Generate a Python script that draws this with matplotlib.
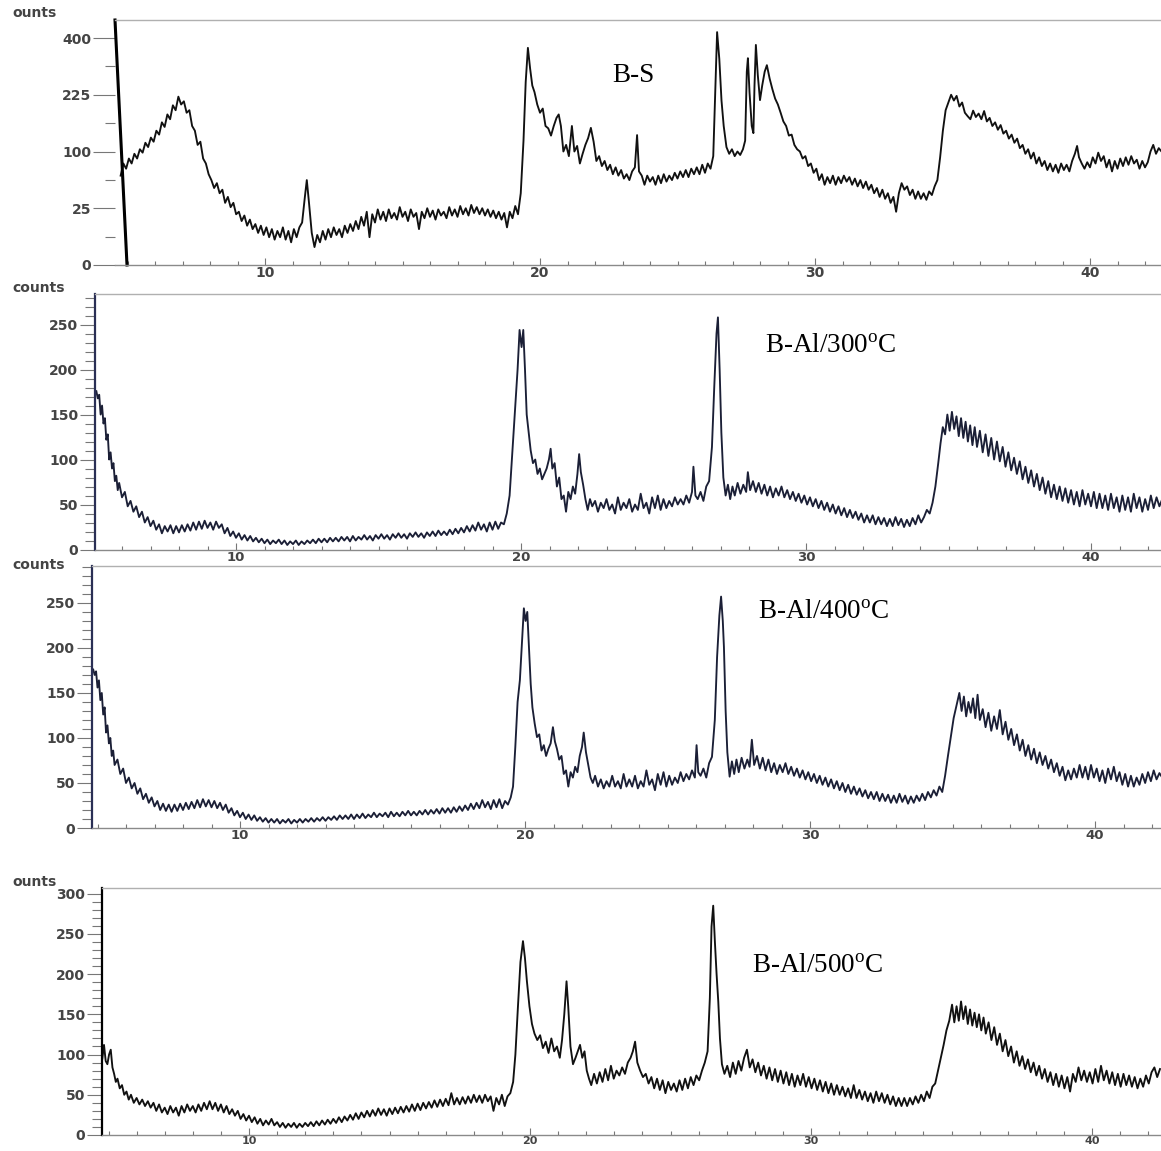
import matplotlib.pyplot as plt
import numpy as np
from matplotlib.ticker import FixedLocator, MultipleLocator

plt.rcParams['mathtext.fontset'] = 'custom'
plt.rcParams['mathtext.rm'] = 'Liberation Serif'
plt.rcParams['mathtext.it'] = 'Liberation Serif:italic'
plt.rcParams['mathtext.bf'] = 'Liberation Serif:bold'

# XRD traces, (2theta, counts)
BS_PTS = [
    (4.75, 62), (4.85, 80), (4.95, 72), (5.05, 88), (5.15, 80), (5.25, 96), (5.35, 88), (5.45, 104),
    (5.55, 98), (5.65, 116), (5.75, 108), (5.85, 126), (5.95, 118), (6.05, 140), (6.15, 132), (6.25, 158),
    (6.35, 148), (6.45, 176), (6.55, 165), (6.65, 198), (6.75, 186), (6.85, 220), (6.95, 200), (7.05, 208),
    (7.15, 180), (7.25, 186), (7.35, 150), (7.45, 140), (7.55, 112), (7.65, 118), (7.75, 88), (7.85, 80),
    (7.95, 64), (8.05, 56), (8.15, 46), (8.25, 52), (8.35, 40), (8.45, 44), (8.55, 30), (8.65, 36),
    (8.75, 26), (8.85, 30), (8.95, 20), (9.05, 22), (9.15, 15), (9.25, 19), (9.35, 12), (9.45, 16),
    (9.55, 10), (9.65, 13), (9.75, 8), (9.85, 12), (9.95, 7), (10.05, 11), (10.15, 6), (10.25, 10),
    (10.35, 5), (10.45, 9), (10.55, 6), (10.65, 11), (10.75, 5), (10.85, 9), (10.95, 4), (11.05, 10),
    (11.15, 6), (11.25, 11), (11.35, 14), (11.45, 36), (11.52, 56), (11.6, 30), (11.7, 8), (11.8, 2.5),
    (11.9, 7), (12.0, 4), (12.1, 9), (12.2, 5), (12.3, 10), (12.4, 6), (12.5, 11), (12.6, 7),
    (12.7, 10), (12.8, 6), (12.9, 12), (13.0, 8), (13.1, 13), (13.2, 9), (13.3, 15), (13.4, 10),
    (13.5, 18), (13.6, 12), (13.7, 22), (13.8, 6), (13.9, 20), (14.0, 14), (14.1, 24), (14.2, 16),
    (14.3, 22), (14.4, 15), (14.5, 24), (14.6, 17), (14.7, 21), (14.8, 16), (14.9, 26), (15.0, 18),
    (15.1, 22), (15.2, 15), (15.3, 24), (15.4, 18), (15.5, 21), (15.6, 10), (15.7, 22), (15.8, 17),
    (15.9, 25), (16.0, 18), (16.1, 23), (16.2, 16), (16.3, 24), (16.4, 19), (16.5, 22), (16.6, 17),
    (16.7, 26), (16.8, 19), (16.9, 24), (17.0, 18), (17.1, 27), (17.2, 20), (17.3, 25), (17.4, 19),
    (17.5, 28), (17.6, 21), (17.7, 26), (17.8, 20), (17.9, 25), (18.0, 19), (18.1, 24), (18.2, 18),
    (18.3, 23), (18.4, 17), (18.5, 22), (18.6, 16), (18.7, 21), (18.8, 11), (18.9, 22), (19.0, 17),
    (19.1, 27), (19.2, 20), (19.3, 40), (19.4, 120), (19.48, 260), (19.56, 366), (19.64, 300), (19.72, 250),
    (19.8, 232), (19.9, 200), (20.0, 180), (20.1, 190), (20.2, 150), (20.3, 145), (20.4, 130), (20.5, 150),
    (20.6, 168), (20.68, 176), (20.76, 150), (20.85, 100), (20.95, 112), (21.05, 92), (21.16, 150), (21.25, 100),
    (21.35, 110), (21.45, 80), (21.55, 96), (21.65, 112), (21.75, 125), (21.85, 146), (21.95, 118), (22.05, 84),
    (22.15, 92), (22.25, 76), (22.35, 84), (22.45, 70), (22.55, 78), (22.65, 64), (22.75, 74), (22.85, 62),
    (22.95, 70), (23.05, 58), (23.15, 64), (23.25, 56), (23.35, 68), (23.45, 74), (23.53, 131), (23.6, 68),
    (23.7, 62), (23.8, 50), (23.9, 62), (24.0, 54), (24.1, 60), (24.2, 50), (24.3, 62), (24.4, 52),
    (24.5, 64), (24.6, 54), (24.7, 62), (24.8, 56), (24.9, 66), (25.0, 58), (25.1, 68), (25.2, 60),
    (25.3, 70), (25.4, 60), (25.5, 72), (25.6, 64), (25.7, 74), (25.8, 64), (25.9, 78), (26.0, 66),
    (26.1, 80), (26.2, 72), (26.3, 92), (26.38, 250), (26.44, 421), (26.52, 330), (26.6, 210), (26.68, 150),
    (26.78, 108), (26.88, 96), (26.98, 104), (27.08, 92), (27.18, 100), (27.28, 94), (27.38, 104), (27.46, 120),
    (27.52, 290), (27.56, 332), (27.62, 230), (27.7, 150), (27.76, 135), (27.8, 250), (27.85, 376), (27.92, 280),
    (28.0, 211), (28.08, 250), (28.17, 290), (28.25, 310), (28.35, 270), (28.45, 240), (28.55, 215), (28.65, 200),
    (28.75, 180), (28.85, 160), (28.95, 150), (29.05, 130), (29.15, 132), (29.25, 112), (29.35, 104), (29.45, 100),
    (29.55, 88), (29.65, 92), (29.75, 76), (29.85, 80), (29.95, 66), (30.05, 72), (30.15, 56), (30.25, 64),
    (30.35, 50), (30.45, 60), (30.55, 52), (30.65, 62), (30.75, 50), (30.85, 60), (30.95, 52), (31.05, 62),
    (31.15, 54), (31.25, 60), (31.35, 50), (31.45, 58), (31.55, 48), (31.65, 56), (31.75, 46), (31.85, 54),
    (31.95, 44), (32.05, 50), (32.15, 40), (32.25, 46), (32.35, 36), (32.45, 44), (32.55, 34), (32.65, 40),
    (32.75, 30), (32.85, 36), (32.95, 22), (33.05, 40), (33.15, 52), (33.25, 44), (33.35, 48), (33.45, 38),
    (33.55, 44), (33.65, 34), (33.75, 42), (33.85, 34), (33.95, 40), (34.05, 33), (34.15, 42), (34.25, 38),
    (34.35, 48), (34.45, 56), (34.55, 90), (34.65, 140), (34.75, 186), (34.85, 205), (34.95, 225), (35.05, 210),
    (35.15, 222), (35.25, 195), (35.35, 205), (35.45, 180), (35.55, 172), (35.65, 165), (35.75, 185), (35.85, 170),
    (35.95, 178), (36.05, 165), (36.15, 184), (36.25, 160), (36.35, 168), (36.45, 150), (36.55, 158), (36.65, 142),
    (36.75, 152), (36.85, 134), (36.95, 140), (37.05, 124), (37.15, 132), (37.25, 116), (37.35, 124), (37.45, 106),
    (37.55, 112), (37.65, 96), (37.75, 104), (37.85, 88), (37.95, 98), (38.05, 80), (38.15, 90), (38.25, 76),
    (38.35, 84), (38.45, 70), (38.55, 80), (38.65, 68), (38.75, 78), (38.85, 66), (38.95, 80), (39.05, 70),
    (39.15, 78), (39.25, 68), (39.35, 84), (39.45, 96), (39.53, 110), (39.6, 90), (39.7, 80), (39.8, 72),
    (39.9, 82), (40.0, 74), (40.1, 90), (40.2, 80), (40.3, 98), (40.4, 84), (40.5, 92), (40.6, 74),
    (40.7, 86), (40.8, 68), (40.9, 84), (41.0, 72), (41.1, 88), (41.2, 76), (41.3, 90), (41.4, 78),
    (41.5, 92), (41.6, 80), (41.7, 86), (41.8, 72), (41.9, 84), (42.0, 74), (42.1, 82), (42.2, 100),
    (42.3, 112), (42.4, 96), (42.5, 106), (42.6, 100),
]

AL300_PTS = [
    (5.1, 176), (5.15, 168), (5.2, 172), (5.25, 150), (5.3, 160), (5.35, 140), (5.4, 146), (5.45, 122),
    (5.5, 128), (5.55, 100), (5.6, 108), (5.65, 90), (5.7, 96), (5.75, 76), (5.8, 82), (5.85, 66),
    (5.9, 74), (6.0, 58), (6.1, 64), (6.2, 48), (6.3, 54), (6.4, 42), (6.5, 48), (6.6, 36),
    (6.7, 42), (6.8, 30), (6.9, 36), (7.0, 26), (7.1, 32), (7.2, 22), (7.3, 28), (7.4, 18),
    (7.5, 26), (7.6, 20), (7.7, 27), (7.8, 18), (7.9, 26), (8.0, 19), (8.1, 27), (8.2, 20),
    (8.3, 28), (8.4, 21), (8.5, 30), (8.6, 22), (8.7, 31), (8.8, 23), (8.9, 32), (9.0, 24),
    (9.1, 30), (9.2, 22), (9.3, 31), (9.4, 24), (9.5, 28), (9.6, 18), (9.7, 24), (9.8, 15),
    (9.9, 20), (10.0, 13), (10.1, 18), (10.2, 11), (10.3, 16), (10.4, 10), (10.5, 15), (10.6, 9),
    (10.7, 13), (10.8, 8), (10.9, 12), (11.0, 7), (11.1, 11), (11.2, 6), (11.3, 10), (11.4, 7),
    (11.5, 11), (11.6, 6), (11.7, 10), (11.8, 5), (11.9, 9), (12.0, 6), (12.1, 10), (12.2, 5),
    (12.3, 9), (12.4, 6), (12.5, 10), (12.6, 7), (12.7, 11), (12.8, 7), (12.9, 12), (13.0, 8),
    (13.1, 12), (13.2, 8), (13.3, 13), (13.4, 9), (13.5, 13), (13.6, 9), (13.7, 14), (13.8, 10),
    (13.9, 14), (14.0, 9), (14.1, 15), (14.2, 10), (14.3, 14), (14.4, 11), (14.5, 16), (14.6, 11),
    (14.7, 15), (14.8, 10), (14.9, 16), (15.0, 12), (15.1, 17), (15.2, 12), (15.3, 16), (15.4, 11),
    (15.5, 17), (15.6, 13), (15.7, 18), (15.8, 13), (15.9, 17), (16.0, 12), (16.1, 18), (16.2, 14),
    (16.3, 19), (16.4, 14), (16.5, 18), (16.6, 13), (16.7, 19), (16.8, 15), (16.9, 20), (17.0, 15),
    (17.1, 21), (17.2, 16), (17.3, 20), (17.4, 16), (17.5, 22), (17.6, 17), (17.7, 23), (17.8, 18),
    (17.9, 24), (18.0, 19), (18.1, 26), (18.2, 20), (18.3, 27), (18.4, 21), (18.5, 30), (18.6, 22),
    (18.7, 28), (18.8, 20), (18.9, 30), (19.0, 22), (19.1, 31), (19.2, 23), (19.3, 30), (19.4, 28),
    (19.5, 40), (19.6, 60), (19.7, 110), (19.8, 160), (19.88, 200), (19.95, 244), (20.02, 225), (20.08, 244),
    (20.14, 200), (20.2, 150), (20.27, 130), (20.34, 110), (20.42, 96), (20.5, 100), (20.58, 84), (20.66, 90),
    (20.74, 78), (20.82, 84), (20.9, 90), (20.98, 100), (21.04, 112), (21.1, 90), (21.18, 96), (21.26, 70),
    (21.34, 80), (21.42, 56), (21.5, 60), (21.58, 42), (21.66, 64), (21.74, 56), (21.82, 70), (21.9, 62),
    (21.98, 84), (22.04, 106), (22.1, 86), (22.18, 72), (22.26, 56), (22.34, 44), (22.42, 56), (22.5, 48),
    (22.6, 54), (22.7, 42), (22.8, 52), (22.9, 46), (23.0, 56), (23.1, 44), (23.2, 50), (23.3, 40),
    (23.4, 58), (23.5, 44), (23.6, 52), (23.7, 46), (23.8, 56), (23.9, 42), (24.0, 50), (24.1, 44),
    (24.2, 62), (24.3, 46), (24.4, 52), (24.5, 40), (24.6, 58), (24.7, 46), (24.8, 60), (24.9, 44),
    (25.0, 56), (25.1, 46), (25.2, 54), (25.3, 48), (25.4, 58), (25.5, 50), (25.6, 56), (25.7, 50),
    (25.8, 60), (25.9, 52), (26.0, 64), (26.05, 92), (26.12, 60), (26.2, 56), (26.3, 64), (26.4, 54),
    (26.5, 70), (26.6, 76), (26.7, 114), (26.78, 180), (26.86, 240), (26.91, 258), (26.97, 200), (27.03, 130),
    (27.1, 80), (27.18, 60), (27.26, 72), (27.34, 56), (27.42, 70), (27.5, 60), (27.6, 74), (27.7, 62),
    (27.8, 72), (27.9, 64), (27.96, 86), (28.04, 66), (28.14, 76), (28.24, 64), (28.34, 74), (28.44, 62),
    (28.54, 72), (28.64, 60), (28.74, 70), (28.84, 58), (28.94, 68), (29.04, 60), (29.14, 70), (29.24, 58),
    (29.34, 66), (29.44, 56), (29.54, 64), (29.64, 54), (29.74, 62), (29.84, 52), (29.94, 60), (30.04, 50),
    (30.14, 58), (30.24, 48), (30.34, 56), (30.44, 46), (30.54, 54), (30.64, 44), (30.74, 52), (30.84, 42),
    (30.94, 50), (31.04, 40), (31.14, 48), (31.24, 38), (31.34, 46), (31.44, 36), (31.54, 44), (31.64, 35),
    (31.74, 42), (31.84, 33), (31.94, 40), (32.04, 30), (32.14, 38), (32.24, 30), (32.34, 38), (32.44, 28),
    (32.54, 36), (32.64, 28), (32.74, 35), (32.84, 26), (32.94, 34), (33.04, 26), (33.14, 36), (33.24, 27),
    (33.34, 34), (33.44, 25), (33.54, 33), (33.64, 26), (33.74, 35), (33.84, 28), (33.94, 38), (34.04, 30),
    (34.14, 36), (34.24, 44), (34.34, 40), (34.44, 52), (34.54, 70), (34.64, 96), (34.72, 118), (34.8, 136),
    (34.88, 128), (34.96, 150), (35.04, 132), (35.12, 153), (35.2, 134), (35.28, 148), (35.36, 126), (35.44, 146),
    (35.52, 124), (35.6, 142), (35.68, 120), (35.76, 138), (35.84, 116), (35.92, 136), (36.0, 114), (36.1, 132),
    (36.2, 108), (36.3, 128), (36.4, 104), (36.5, 124), (36.6, 100), (36.7, 120), (36.8, 98), (36.9, 114),
    (37.0, 92), (37.1, 108), (37.2, 88), (37.3, 102), (37.4, 84), (37.5, 98), (37.6, 78), (37.7, 92),
    (37.8, 74), (37.9, 88), (38.0, 70), (38.1, 84), (38.2, 66), (38.3, 80), (38.4, 62), (38.5, 76),
    (38.6, 58), (38.7, 72), (38.8, 56), (38.9, 70), (39.0, 54), (39.1, 68), (39.2, 52), (39.3, 66),
    (39.4, 50), (39.5, 64), (39.6, 48), (39.7, 66), (39.8, 50), (39.9, 62), (40.0, 48), (40.1, 64),
    (40.2, 46), (40.3, 62), (40.4, 46), (40.5, 60), (40.6, 44), (40.7, 62), (40.8, 46), (40.9, 58),
    (41.0, 42), (41.1, 60), (41.2, 44), (41.3, 58), (41.4, 42), (41.5, 62), (41.6, 46), (41.7, 58),
    (41.8, 42), (41.9, 56), (42.0, 44), (42.1, 60), (42.2, 46), (42.3, 58), (42.4, 48), (42.5, 56),
]

AL400_PTS = [
    (4.85, 176), (4.9, 170), (4.95, 174), (5.0, 156), (5.05, 164), (5.1, 142), (5.15, 150), (5.2, 126),
    (5.25, 134), (5.3, 106), (5.35, 114), (5.4, 94), (5.45, 100), (5.5, 80), (5.55, 86), (5.6, 70),
    (5.7, 76), (5.8, 60), (5.9, 66), (6.0, 50), (6.1, 56), (6.2, 44), (6.3, 50), (6.4, 38),
    (6.5, 44), (6.6, 32), (6.7, 38), (6.8, 28), (6.9, 34), (7.0, 24), (7.1, 30), (7.2, 20),
    (7.3, 27), (7.4, 19), (7.5, 26), (7.6, 18), (7.7, 26), (7.8, 19), (7.9, 27), (8.0, 20),
    (8.1, 28), (8.2, 21), (8.3, 29), (8.4, 22), (8.5, 31), (8.6, 23), (8.7, 32), (8.8, 24),
    (8.9, 31), (9.0, 23), (9.1, 30), (9.2, 22), (9.3, 28), (9.4, 20), (9.5, 26), (9.6, 17),
    (9.7, 22), (9.8, 14), (9.9, 19), (10.0, 12), (10.1, 17), (10.2, 10), (10.3, 15), (10.4, 9),
    (10.5, 14), (10.6, 8), (10.7, 12), (10.8, 7), (10.9, 11), (11.0, 6), (11.1, 10), (11.2, 6),
    (11.3, 10), (11.4, 5), (11.5, 9), (11.6, 6), (11.7, 10), (11.8, 5), (11.9, 9), (12.0, 6),
    (12.1, 10), (12.2, 6), (12.3, 10), (12.4, 7), (12.5, 11), (12.6, 7), (12.7, 11), (12.8, 8),
    (12.9, 12), (13.0, 8), (13.1, 12), (13.2, 9), (13.3, 13), (13.4, 9), (13.5, 14), (13.6, 10),
    (13.7, 14), (13.8, 10), (13.9, 15), (14.0, 10), (14.1, 15), (14.2, 11), (14.3, 16), (14.4, 11),
    (14.5, 15), (14.6, 12), (14.7, 17), (14.8, 12), (14.9, 16), (15.0, 13), (15.1, 17), (15.2, 12),
    (15.3, 18), (15.4, 13), (15.5, 17), (15.6, 13), (15.7, 18), (15.8, 14), (15.9, 19), (16.0, 14),
    (16.1, 18), (16.2, 14), (16.3, 19), (16.4, 15), (16.5, 20), (16.6, 15), (16.7, 20), (16.8, 16),
    (16.9, 21), (17.0, 16), (17.1, 22), (17.2, 17), (17.3, 22), (17.4, 17), (17.5, 23), (17.6, 18),
    (17.7, 24), (17.8, 19), (17.9, 25), (18.0, 20), (18.1, 27), (18.2, 21), (18.3, 28), (18.4, 22),
    (18.5, 31), (18.6, 23), (18.7, 29), (18.8, 21), (18.9, 31), (19.0, 23), (19.1, 32), (19.2, 22),
    (19.3, 30), (19.4, 26), (19.5, 34), (19.58, 46), (19.66, 90), (19.74, 140), (19.82, 164), (19.9, 210),
    (19.96, 244), (20.02, 230), (20.08, 240), (20.14, 201), (20.2, 160), (20.26, 134), (20.34, 116), (20.42, 101),
    (20.5, 104), (20.58, 86), (20.66, 92), (20.74, 80), (20.82, 88), (20.9, 94), (20.98, 112), (21.05, 96),
    (21.12, 88), (21.2, 76), (21.28, 80), (21.36, 60), (21.44, 64), (21.52, 46), (21.6, 62), (21.68, 56),
    (21.76, 68), (21.84, 62), (21.92, 80), (22.0, 90), (22.06, 106), (22.14, 84), (22.22, 70), (22.3, 56),
    (22.38, 50), (22.46, 58), (22.56, 46), (22.66, 54), (22.76, 44), (22.86, 52), (22.96, 46), (23.06, 58),
    (23.16, 46), (23.26, 52), (23.36, 44), (23.46, 60), (23.56, 46), (23.66, 54), (23.76, 46), (23.86, 58),
    (23.96, 44), (24.06, 52), (24.16, 46), (24.26, 64), (24.36, 48), (24.46, 54), (24.56, 42), (24.66, 60),
    (24.76, 48), (24.86, 62), (24.96, 46), (25.06, 58), (25.16, 48), (25.26, 56), (25.36, 50), (25.46, 62),
    (25.56, 52), (25.66, 60), (25.76, 54), (25.86, 64), (25.96, 56), (26.02, 92), (26.08, 62), (26.16, 58),
    (26.26, 66), (26.36, 56), (26.46, 72), (26.56, 79), (26.66, 120), (26.74, 190), (26.82, 236), (26.88, 257),
    (26.94, 230), (26.98, 201), (27.04, 130), (27.1, 84), (27.18, 57), (27.26, 74), (27.34, 60), (27.42, 76),
    (27.5, 62), (27.6, 78), (27.7, 66), (27.8, 76), (27.88, 68), (27.96, 98), (28.04, 70), (28.14, 80),
    (28.24, 66), (28.34, 78), (28.44, 64), (28.54, 76), (28.64, 62), (28.74, 72), (28.84, 60), (28.94, 70),
    (29.04, 62), (29.14, 72), (29.24, 60), (29.34, 68), (29.44, 58), (29.54, 66), (29.64, 56), (29.74, 64),
    (29.84, 54), (29.94, 62), (30.04, 52), (30.14, 60), (30.24, 50), (30.34, 58), (30.44, 48), (30.54, 56),
    (30.64, 46), (30.74, 54), (30.84, 44), (30.94, 52), (31.04, 42), (31.14, 50), (31.24, 40), (31.34, 48),
    (31.44, 38), (31.54, 46), (31.64, 37), (31.74, 44), (31.84, 35), (31.94, 42), (32.04, 33), (32.14, 40),
    (32.24, 32), (32.34, 40), (32.44, 30), (32.54, 38), (32.64, 30), (32.74, 37), (32.84, 28), (32.94, 36),
    (33.04, 28), (33.14, 38), (33.24, 29), (33.34, 36), (33.44, 27), (33.54, 35), (33.64, 28), (33.74, 36),
    (33.84, 30), (33.94, 38), (34.04, 31), (34.14, 40), (34.24, 34), (34.34, 42), (34.44, 36), (34.54, 46),
    (34.64, 40), (34.74, 58), (34.84, 80), (34.94, 101), (35.04, 122), (35.14, 136), (35.24, 150), (35.32, 130),
    (35.4, 146), (35.48, 124), (35.56, 140), (35.64, 128), (35.72, 144), (35.8, 122), (35.88, 148), (35.96, 120),
    (36.06, 132), (36.16, 112), (36.26, 128), (36.36, 108), (36.46, 124), (36.56, 110), (36.66, 131), (36.76, 104),
    (36.86, 118), (36.96, 98), (37.06, 110), (37.16, 92), (37.26, 104), (37.36, 86), (37.46, 98), (37.56, 80),
    (37.66, 92), (37.76, 76), (37.86, 88), (37.96, 72), (38.06, 84), (38.16, 70), (38.26, 80), (38.36, 66),
    (38.46, 76), (38.56, 62), (38.66, 72), (38.76, 58), (38.86, 68), (38.96, 53), (39.06, 64), (39.16, 54),
    (39.26, 66), (39.36, 56), (39.46, 70), (39.56, 56), (39.66, 68), (39.76, 54), (39.86, 70), (39.96, 56),
    (40.06, 66), (40.16, 52), (40.26, 64), (40.36, 50), (40.46, 66), (40.56, 54), (40.66, 68), (40.76, 52),
    (40.86, 62), (40.96, 48), (41.06, 60), (41.16, 46), (41.26, 58), (41.36, 46), (41.46, 56), (41.56, 48),
    (41.66, 60), (41.76, 50), (41.86, 62), (41.96, 52), (42.06, 64), (42.16, 54), (42.26, 61), (42.36, 56),
]

AL500_PTS = [
    (4.78, 95), (4.84, 112), (4.9, 92), (4.96, 88), (5.02, 100), (5.08, 106), (5.14, 84), (5.2, 76),
    (5.26, 66), (5.32, 70), (5.4, 58), (5.48, 62), (5.56, 50), (5.64, 54), (5.72, 44), (5.8, 50),
    (5.9, 40), (6.0, 46), (6.1, 38), (6.2, 44), (6.3, 36), (6.4, 42), (6.5, 34), (6.6, 40),
    (6.7, 30), (6.8, 38), (6.9, 28), (7.0, 34), (7.1, 26), (7.2, 36), (7.3, 28), (7.4, 34),
    (7.5, 24), (7.6, 36), (7.7, 28), (7.8, 38), (7.9, 30), (8.0, 36), (8.1, 28), (8.2, 38),
    (8.3, 30), (8.4, 40), (8.5, 32), (8.6, 42), (8.7, 32), (8.8, 40), (8.9, 30), (9.0, 38),
    (9.1, 28), (9.2, 36), (9.3, 26), (9.4, 32), (9.5, 24), (9.6, 30), (9.7, 20), (9.8, 26),
    (9.9, 18), (10.0, 24), (10.1, 16), (10.2, 22), (10.3, 14), (10.4, 20), (10.5, 12), (10.6, 18),
    (10.7, 13), (10.8, 20), (10.9, 12), (11.0, 16), (11.1, 10), (11.2, 15), (11.3, 9), (11.4, 14),
    (11.5, 10), (11.6, 15), (11.7, 9), (11.8, 14), (11.9, 10), (12.0, 15), (12.1, 11), (12.2, 16),
    (12.3, 11), (12.4, 17), (12.5, 12), (12.6, 18), (12.7, 13), (12.8, 19), (12.9, 14), (13.0, 20),
    (13.1, 15), (13.2, 22), (13.3, 16), (13.4, 23), (13.5, 18), (13.6, 25), (13.7, 19), (13.8, 27),
    (13.9, 20), (14.0, 28), (14.1, 22), (14.2, 30), (14.3, 23), (14.4, 31), (14.5, 24), (14.6, 33),
    (14.7, 25), (14.8, 32), (14.9, 24), (15.0, 33), (15.1, 26), (15.2, 34), (15.3, 27), (15.4, 35),
    (15.5, 28), (15.6, 36), (15.7, 29), (15.8, 38), (15.9, 30), (16.0, 39), (16.1, 31), (16.2, 40),
    (16.3, 33), (16.4, 41), (16.5, 34), (16.6, 43), (16.7, 35), (16.8, 44), (16.9, 36), (17.0, 45),
    (17.1, 37), (17.2, 52), (17.3, 38), (17.4, 46), (17.5, 38), (17.6, 47), (17.7, 39), (17.8, 48),
    (17.9, 40), (18.0, 50), (18.1, 41), (18.2, 49), (18.3, 40), (18.4, 50), (18.5, 42), (18.6, 48),
    (18.7, 30), (18.8, 46), (18.9, 38), (19.0, 50), (19.1, 36), (19.2, 48), (19.3, 52), (19.4, 66),
    (19.48, 100), (19.57, 159), (19.66, 215), (19.75, 241), (19.82, 220), (19.89, 191), (19.98, 160), (20.07, 138),
    (20.16, 126), (20.26, 118), (20.36, 124), (20.46, 108), (20.56, 116), (20.66, 102), (20.76, 120), (20.86, 104),
    (20.96, 110), (21.06, 96), (21.14, 118), (21.22, 150), (21.3, 191), (21.36, 160), (21.44, 110), (21.53, 88),
    (21.62, 96), (21.7, 104), (21.78, 112), (21.86, 96), (21.94, 104), (22.02, 80), (22.1, 70), (22.18, 62),
    (22.28, 76), (22.38, 64), (22.48, 78), (22.58, 66), (22.68, 82), (22.78, 68), (22.88, 86), (22.98, 70),
    (23.08, 80), (23.18, 74), (23.28, 84), (23.38, 76), (23.48, 90), (23.58, 96), (23.66, 104), (23.74, 116),
    (23.82, 90), (23.92, 80), (24.02, 72), (24.12, 76), (24.22, 64), (24.32, 72), (24.42, 58), (24.52, 70),
    (24.62, 56), (24.72, 68), (24.82, 52), (24.92, 66), (25.02, 56), (25.12, 64), (25.22, 54), (25.32, 68),
    (25.42, 56), (25.52, 70), (25.62, 58), (25.72, 72), (25.82, 62), (25.92, 74), (26.02, 68), (26.12, 80),
    (26.22, 90), (26.32, 104), (26.4, 170), (26.46, 259), (26.52, 285), (26.58, 240), (26.64, 200), (26.7, 166),
    (26.76, 120), (26.83, 88), (26.92, 76), (27.02, 86), (27.12, 72), (27.22, 90), (27.32, 76), (27.42, 92),
    (27.52, 80), (27.62, 96), (27.72, 106), (27.82, 84), (27.92, 94), (28.02, 78), (28.12, 90), (28.22, 74),
    (28.32, 86), (28.42, 70), (28.52, 84), (28.62, 68), (28.72, 82), (28.82, 66), (28.92, 80), (29.02, 64),
    (29.12, 78), (29.22, 62), (29.32, 76), (29.42, 60), (29.52, 74), (29.62, 62), (29.72, 76), (29.82, 60),
    (29.92, 72), (30.02, 58), (30.12, 70), (30.22, 56), (30.32, 68), (30.42, 54), (30.52, 66), (30.62, 52),
    (30.72, 64), (30.82, 50), (30.92, 62), (31.02, 50), (31.12, 60), (31.22, 48), (31.32, 58), (31.42, 46),
    (31.52, 62), (31.62, 46), (31.72, 56), (31.82, 44), (31.92, 54), (32.02, 42), (32.12, 52), (32.22, 40),
    (32.32, 54), (32.42, 42), (32.52, 52), (32.62, 40), (32.72, 50), (32.82, 38), (32.92, 48), (33.02, 36),
    (33.12, 46), (33.22, 36), (33.32, 46), (33.42, 36), (33.52, 46), (33.62, 38), (33.72, 48), (33.82, 40),
    (33.92, 50), (34.02, 42), (34.12, 54), (34.22, 46), (34.32, 60), (34.42, 64), (34.52, 80), (34.62, 96),
    (34.72, 112), (34.82, 130), (34.92, 142), (35.02, 162), (35.1, 140), (35.18, 160), (35.26, 142), (35.34, 166),
    (35.42, 144), (35.5, 160), (35.58, 138), (35.66, 156), (35.74, 136), (35.82, 152), (35.9, 134), (35.98, 150),
    (36.06, 130), (36.14, 146), (36.22, 126), (36.32, 140), (36.42, 118), (36.52, 134), (36.62, 112), (36.72, 126),
    (36.82, 104), (36.92, 118), (37.02, 98), (37.12, 110), (37.22, 90), (37.32, 104), (37.42, 86), (37.52, 98),
    (37.62, 82), (37.72, 94), (37.82, 78), (37.92, 90), (38.02, 74), (38.12, 86), (38.22, 70), (38.32, 82),
    (38.42, 66), (38.52, 78), (38.62, 62), (38.72, 76), (38.82, 60), (38.92, 74), (39.02, 58), (39.12, 72),
    (39.22, 54), (39.32, 76), (39.42, 66), (39.52, 84), (39.62, 68), (39.72, 80), (39.82, 66), (39.92, 78),
    (40.02, 64), (40.12, 82), (40.22, 66), (40.32, 86), (40.42, 68), (40.52, 80), (40.62, 64), (40.72, 78),
    (40.82, 62), (40.92, 76), (41.02, 60), (41.12, 76), (41.22, 62), (41.32, 74), (41.42, 60), (41.52, 72),
    (41.62, 58), (41.72, 70), (41.82, 60), (41.92, 74), (42.02, 64), (42.12, 78), (42.22, 84), (42.32, 72),
    (42.42, 82),
]

SAMPLE_NAMES = ['B-S', r'B-Al/300$^{\mathrm{o}}$C', r'B-Al/400$^{\mathrm{o}}$C', r'B-Al/500$^{\mathrm{o}}$C']
COUNT_LABELS = ['ounts', 'counts', 'counts', 'ounts']
BS_YTICKS = [0, 25, 100, 225, 400]
BS_YMINOR = [6.25, 56.25, 156.25, 306.25]
X_TICKS = [10, 20, 30, 40]

W, H = 1161, 1151
fig = plt.figure(figsize=(W / 100, H / 100), dpi=100)


def px_box(left, top, right, bottom):
    """Положение осей в долях фигуры по пиксельным границам."""
    return [left / W, 1 - bottom / H, (right - left) / W, (bottom - top) / H]


# layout of every panel: pixel box, x position of 20 deg, px per degree, y top
layout = [
    dict(pts=BS_PTS, box=(115, 20, 1161, 265), x20=540, ppd=27.5, ytop=466,
         color='#111111', label_xy=(612, 75), counts_y=13, xlab=10),
    dict(pts=AL300_PTS, box=(95, 294, 1161, 549.5), x20=521, ppd=28.5, ytop=284,
         color='#1b1f36', label_xy=(765, 345), counts_y=288, xlab=9.5),
    dict(pts=AL400_PTS, box=(92, 566, 1161, 828), x20=525, ppd=28.5, ytop=291,
         color='#1b1f36', label_xy=(758, 612), counts_y=565, xlab=9.5),
    dict(pts=AL500_PTS, box=(102, 888, 1161, 1135), x20=530, ppd=28.1, ytop=307,
         color='#111111', label_xy=(752, 965), counts_y=882, xlab=8),
]

for i, p in enumerate(layout):
    left, top, right, bottom = p['box']
    ax = fig.add_axes(px_box(left, top, right, bottom))
    two_theta, counts = map(np.array, zip(*p['pts']))

    if i == 0:
        # первая панель в масштабе квадратного корня
        ax.set_yscale('function', functions=(lambda y: np.sqrt(np.clip(y, 0, None)),
                                             lambda y: np.square(y)))

    ax.plot(two_theta, counts, color=p['color'], lw=1.35)

    ax.set_xlim(20 + (left - p['x20']) / p['ppd'], 20 + (right - p['x20']) / p['ppd'])
    ax.set_ylim(0, p['ytop'])

    # Оси и рамки
    ax.spines['right'].set_visible(False)
    ax.spines['top'].set_color('#b0b0b0')
    ax.spines['top'].set_linewidth(1.0)
    ax.spines['bottom'].set_color('#8a8a8a')
    ax.spines['bottom'].set_linewidth(1.0)

    if i == 0:
        ax.spines['left'].set_visible(False)
        ax.plot([0, 12 / (right - left)], [1, 0], transform=ax.transAxes,
                color='black', lw=2.2, clip_on=False)
        ax.yaxis.set_major_locator(FixedLocator(BS_YTICKS))
        ax.yaxis.set_minor_locator(FixedLocator(BS_YMINOR))
        ax.tick_params(axis='y', which='major', length=16, pad=1)
        ax.tick_params(axis='y', which='minor', length=7)
    else:
        ax.spines['left'].set_color('#2a2f55' if i in (1, 2) else 'black')
        ax.spines['left'].set_linewidth(1.6)
        ax.yaxis.set_major_locator(MultipleLocator(50))
        ax.yaxis.set_minor_locator(MultipleLocator(10))
        ax.tick_params(axis='y', which='major', length=11, pad=1)
        ax.tick_params(axis='y', which='minor', length=7)

    ax.tick_params(axis='y', which='both', color='#777777', width=0.8,
                   labelsize=10, labelcolor='#444444')

    ax.xaxis.set_major_locator(FixedLocator(X_TICKS))
    ax.xaxis.set_minor_locator(MultipleLocator(1))
    ax.tick_params(axis='x', which='major', direction='in', length=5, width=0.8,
                   color='#777777', labelsize=p['xlab'], labelcolor='#444444', pad=1)
    ax.tick_params(axis='x', which='minor', direction='in', length=3, width=0.8,
                   color='#777777')

    for lbl in ax.get_xticklabels() + ax.get_yticklabels():
        lbl.set_fontweight('bold')

    ax.set_facecolor('none')

    # Подпись образца
    lx, ly = p['label_xy']
    fig.text(lx / W, 1 - ly / H, SAMPLE_NAMES[i], family='Liberation Serif',
             fontsize=19.5, color='black', ha='left', va='center')

    fig.text(12 / W, 1 - p['counts_y'] / H, COUNT_LABELS[i], fontsize=10,
             fontweight='bold', color='#444444', ha='left', va='center')

fig.savefig('out.png', dpi=100)
plt.close(fig)
